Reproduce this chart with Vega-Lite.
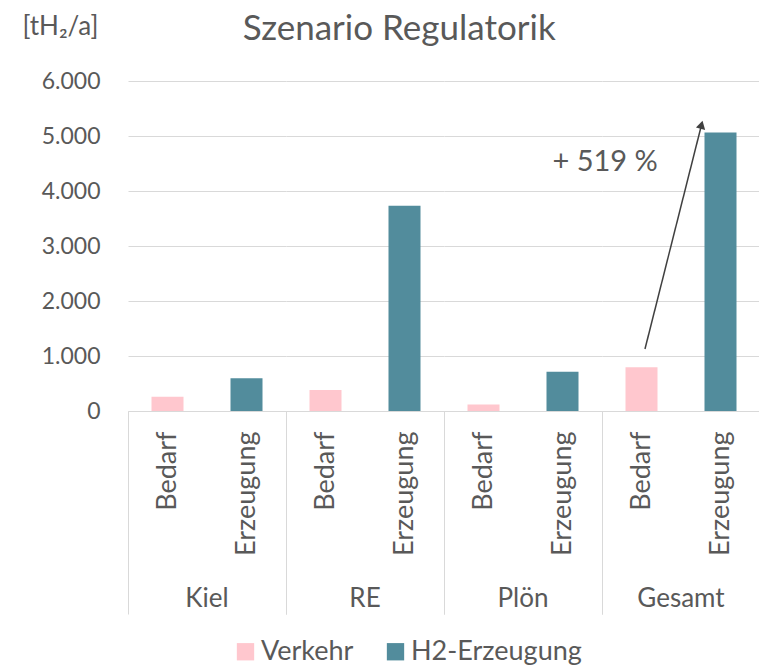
{
  "$schema": "https://vega.github.io/schema/vega-lite/v6.json",
  "background": "white",
  "padding": {"left": 22, "top": 12, "right": 0, "bottom": 0},
  "bounds": "flush",
  "title": {"text": "Szenario Regulatorik", "fontSize": 35, "font": "Lato", "fontWeight": "normal", "color": "#595959", "offset": -34, "anchor": "middle", "dx": 8},
  "data": {"values": [
    {"kind": "bar", "region": "Kiel", "sub": "Bedarf", "series": "Verkehr", "value": 260},
    {"kind": "bar", "region": "Kiel", "sub": "Erzeugung", "series": "H2-Erzeugung", "value": 595},
    {"kind": "bar", "region": "RE", "sub": "Bedarf", "series": "Verkehr", "value": 380},
    {"kind": "bar", "region": "RE", "sub": "Erzeugung", "series": "H2-Erzeugung", "value": 3730},
    {"kind": "bar", "region": "Plön", "sub": "Bedarf", "series": "Verkehr", "value": 120},
    {"kind": "bar", "region": "Plön", "sub": "Erzeugung", "series": "H2-Erzeugung", "value": 715},
    {"kind": "bar", "region": "Gesamt", "sub": "Bedarf", "series": "Verkehr", "value": 795},
    {"kind": "bar", "region": "Gesamt", "sub": "Erzeugung", "series": "H2-Erzeugung", "value": 5065},
    {"kind": "arrow", "region": "Gesamt", "sub": "Bedarf", "off": 0.544, "value": 1127},
    {"kind": "arrow", "region": "Gesamt", "sub": "Erzeugung", "off": 0.26, "value": 5204},
    {"kind": "head", "region": "Gesamt", "sub": "Erzeugung", "off": 0.26, "value": 5204},
    {"kind": "label", "region": "Gesamt", "sub": "Bedarf", "off": 0.04, "value": 4527, "text": "+ 519 %"}
  ]},
  "facet": {
    "column": {
      "field": "region", "type": "nominal", "sort": ["Kiel", "RE", "Plön", "Gesamt"],
      "header": {"title": null, "labelOrient": "bottom", "labelFontSize": 26, "labelFont": "Lato", "labelColor": "#595959", "labelPadding": -29}
    }
  },
  "spacing": 0,
  "spec": {
    "width": 158,
    "height": 330,
    "layer": [
      {
        "transform": [{"filter": "datum.kind === 'bar'"}],
        "mark": {"type": "bar", "width": 32},
        "encoding": {
          "x": {
            "field": "sub", "type": "nominal", "sort": ["Bedarf", "Erzeugung"],
            "scale": {"paddingInner": 0, "paddingOuter": 0},
            "axis": {
              "title": null, "labelAngle": -90, "labelFontSize": 27, "labelFont": "Lato", "labelColor": "#595959",
              "labelPadding": -183, "domainColor": "#d9d9d9", "tickBand": "extent", "tickSize": 203,
              "tickColor": "#d9d9d9",
              "tickOpacity": {"condition": {"test": "datum.value === 'Bedarf'", "value": 0}, "value": 1}
            }
          },
          "y": {
            "field": "value", "type": "quantitative", "scale": {"domain": [0, 6000]},
            "axis": {
              "title": "[tH₂/a]", "titleAngle": 0, "titleAlign": "left", "titleBaseline": "middle",
              "titleX": -106, "titleY": -55, "titleFontSize": 26, "titleFont": "Lato", "titleFontWeight": "normal", "titleColor": "#595959",
              "values": [0, 1000, 2000, 3000, 4000, 5000, 6000],
              "labelExpr": "replace(format(datum.value, ','), ',', '.')",
              "labelFontSize": 23, "labelFont": "Lato", "labelColor": "#595959", "labelPadding": 28,
              "domain": false, "ticks": false, "gridColor": "#d9d9d9"
            }
          },
          "color": {
            "field": "series", "type": "nominal",
            "scale": {"domain": ["Verkehr", "H2-Erzeugung"], "range": ["#FFC7CE", "#528C9C"]},
            "legend": {
              "title": null, "orient": "none", "legendX": 104, "legendY": 557, "direction": "horizontal",
              "symbolType": "square", "symbolSize": 300, "symbolStrokeWidth": 0, "labelLimit": 400,
              "labelFontSize": 27, "labelFont": "Lato", "labelColor": "#595959", "columnPadding": 28, "labelOffset": 2
            }
          }
        }
      },
      {
        "transform": [{"filter": "datum.kind === 'arrow'"}],
        "mark": {"type": "line", "color": "#404040", "strokeWidth": 1.5},
        "encoding": {
          "x": {"field": "sub", "type": "nominal", "sort": ["Bedarf", "Erzeugung"]},
          "xOffset": {"field": "off", "type": "quantitative", "scale": {"domain": [0, 1]}},
          "y": {"field": "value", "type": "quantitative"}
        }
      },
      {
        "transform": [{"filter": "datum.kind === 'head'"}],
        "mark": {"type": "point", "shape": "triangle-up", "filled": true, "color": "#404040", "size": 90, "angle": 14, "opacity": 1},
        "encoding": {
          "x": {"field": "sub", "type": "nominal", "sort": ["Bedarf", "Erzeugung"]},
          "xOffset": {"field": "off", "type": "quantitative", "scale": {"domain": [0, 1]}},
          "y": {"field": "value", "type": "quantitative"}
        }
      },
      {
        "transform": [{"filter": "datum.kind === 'label'"}],
        "mark": {"type": "text", "fontSize": 29, "font": "Lato", "color": "#595959", "align": "center", "baseline": "middle"},
        "encoding": {
          "x": {"field": "sub", "type": "nominal", "sort": ["Bedarf", "Erzeugung"]},
          "xOffset": {"field": "off", "type": "quantitative", "scale": {"domain": [0, 1]}},
          "y": {"field": "value", "type": "quantitative"},
          "text": {"field": "text"}
        }
      }
    ]
  },
  "config": {"view": {"stroke": null}, "font": "Lato"}
}
